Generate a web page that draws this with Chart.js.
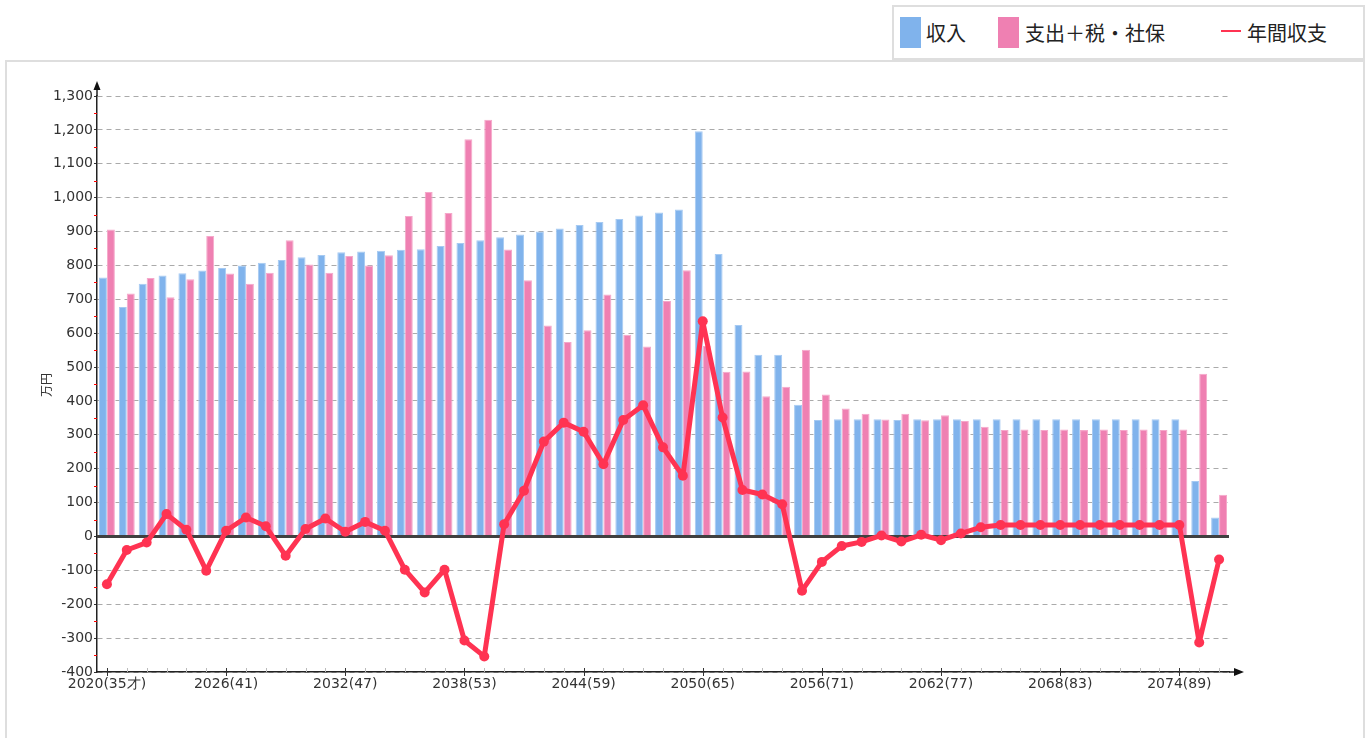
<!DOCTYPE html>
<html>
<head>
<meta charset="utf-8">
<script src="https://cdn.jsdelivr.net/npm/chart.js@4/dist/chart.umd.min.js"></script>
<style>
  body { margin: 0; background: #fff; overflow: hidden; width: 1371px; height: 738px; position: relative; }
  #frame { position: absolute; left: 5px; top: 60px; width: 1356px; height: 700px; border: 2px solid #dedede; }
  #wrap { position: absolute; left: 0; top: 0; width: 1371px; height: 738px; }
  #legend { position: absolute; left: 892px; top: 5px; width: 469px; height: 51px; border: 2px solid #dedede; background: #fff;
            font-family: "Noto Sans CJK JP", sans-serif; font-size: 20px; color: #222; }
  #legend .sw { position: absolute; top: 10px; width: 21px; height: 31px; }
  #legend .tx { position: absolute; top: 10px; height: 31px; line-height: 31px; white-space: nowrap; }
  #legend .ln { position: absolute; top: 23px; width: 20px; height: 2px; background: #ff3352; }
</style>
</head>
<body>
<div id="frame"></div>
<div id="wrap"><canvas id="chart" width="1371" height="738"></canvas></div>
<div id="legend">
  <div class="sw" style="left:6px;background:#80b3ec"></div><div class="tx" style="left:32px">収入</div>
  <div class="sw" style="left:104px;background:#ef80b2"></div><div class="tx" style="left:131px">支出＋税・社保</div>
  <div class="ln" style="left:327px"></div><div class="tx" style="left:353px">年間収支</div>
</div>
<script>
// categories: year(age)
const labels = [
  '2020(35才)', '2021(36)', '2022(37)', '2023(38)', '2024(39)', '2025(40)', '2026(41)', '2027(42)',
  '2028(43)', '2029(44)', '2030(45)', '2031(46)', '2032(47)', '2033(48)', '2034(49)', '2035(50)',
  '2036(51)', '2037(52)', '2038(53)', '2039(54)', '2040(55)', '2041(56)', '2042(57)', '2043(58)',
  '2044(59)', '2045(60)', '2046(61)', '2047(62)', '2048(63)', '2049(64)', '2050(65)', '2051(66)',
  '2052(67)', '2053(68)', '2054(69)', '2055(70)', '2056(71)', '2057(72)', '2058(73)', '2059(74)',
  '2060(75)', '2061(76)', '2062(77)', '2063(78)', '2064(79)', '2065(80)', '2066(81)', '2067(82)',
  '2068(83)', '2069(84)', '2070(85)', '2071(86)', '2072(87)', '2073(88)', '2074(89)', '2075(90)',
  '2076(91)'
];

// 収入 (万円)
const income = [
  764, 677, 746, 770, 777, 785, 792, 800, 808, 816,
  824, 831, 839, 841, 843, 846, 848, 857, 866, 874,
  883, 891, 900, 909, 919, 928, 937, 947, 956, 965,
  1196, 834, 624, 536, 536, 389, 344, 346, 346, 346,
  344, 346, 346, 346, 346, 346, 346, 346, 346, 346,
  346, 346, 346, 346, 346, 164, 56
];

// 支出＋税・社保 (万円)
const expense = [
  906, 717, 763, 706, 759, 887, 776, 746, 778, 874,
  803, 778, 828, 800, 830, 946, 1017, 955, 1172, 1230,
  847, 756, 623, 574, 609, 714, 595, 561, 695, 786,
  562, 486, 487, 414, 442, 551, 419, 378, 362, 345,
  362, 343, 358, 341, 324, 314, 316, 314, 316, 314,
  316, 314, 316, 314, 316, 480, 123
];

// 年間収支 (万円)
const balance = [
  -141, -40, -18, 66, 20, -101, 17, 56, 30, -57,
  22, 53, 14, 43, 17, -98, -165, -98, -307, -354,
  36, 135, 280, 336, 309, 213, 344, 387, 263, 179,
  635, 351, 137, 124, 95, -160, -75, -28, -16, 3,
  -15, 5, -11, 9, 27, 34, 34, 34, 34, 34,
  34, 34, 34, 34, 34, -313, -68
];

const yMin = -400, yMax = 1300, yStep = 100;
const labelEvery = 6;

const tickFont = { family: 'DejaVu Sans', size: 14 };

// zero line, axis arrows, small ticks, axis title
const decor = {
  id: 'decor',
  beforeDatasetDraw(chart, args) {
    if (args.index !== 2) return;
    const { ctx, chartArea, scales: { y } } = chart;
    const y0 = y.getPixelForValue(0);
    ctx.save();
    ctx.strokeStyle = '#404040';
    ctx.lineWidth = 3;
    ctx.beginPath();
    ctx.moveTo(chartArea.left, y0);
    ctx.lineTo(chartArea.right, y0);
    ctx.stroke();
    ctx.restore();
  },
  afterDraw(chart) {
    const { ctx, chartArea, scales: { x, y } } = chart;
    const L = chartArea.left, B = chartArea.bottom;
    ctx.save();

    // red minor ticks on the y axis
    ctx.strokeStyle = '#ff0000';
    ctx.lineWidth = 1;
    for (let v = yMin + yStep / 2; v < yMax; v += yStep) {
      const py = Math.round(y.getPixelForValue(v)) + 0.5;
      ctx.beginPath();
      ctx.moveTo(L - 3, py);
      ctx.lineTo(L, py);
      ctx.stroke();
    }

    // x ticks at every category, bigger ones under labels
    for (let i = 0; i < labels.length; i++) {
      const px = Math.round(x.getPixelForValue(i)) + 0.5;
      ctx.beginPath();
      if (i % labelEvery === 0) {
        ctx.strokeStyle = '#333';
        ctx.moveTo(px, B - 4);
        ctx.lineTo(px, B + 4);
      } else {
        ctx.strokeStyle = '#bbb';
        ctx.moveTo(px, B - 4);
        ctx.lineTo(px, B);
      }
      ctx.stroke();
    }

    // axis arrows
    ctx.strokeStyle = '#222';
    ctx.fillStyle = '#111';
    ctx.lineWidth = 1.5;
    ctx.beginPath();
    ctx.moveTo(L, chartArea.top);
    ctx.lineTo(L, 88);
    ctx.stroke();
    ctx.beginPath();
    ctx.moveTo(L, 81);
    ctx.lineTo(L - 3.5, 90);
    ctx.lineTo(L + 3.5, 90);
    ctx.closePath();
    ctx.fill();

    ctx.beginPath();
    ctx.moveTo(chartArea.right, B);
    ctx.lineTo(1236, B);
    ctx.stroke();
    ctx.beginPath();
    ctx.moveTo(1244, B);
    ctx.lineTo(1234, B - 4);
    ctx.lineTo(1234, B + 4);
    ctx.closePath();
    ctx.fill();

    // y axis title
    ctx.translate(46, 385);
    ctx.rotate(-Math.PI / 2);
    ctx.fillStyle = '#333';
    ctx.font = '12px "Noto Sans CJK JP"';
    ctx.textAlign = 'center';
    ctx.textBaseline = 'middle';
    ctx.fillText('万円', 0, 0);
    ctx.restore();
  }
};

new Chart(document.getElementById('chart'), {
  type: 'bar',
  data: {
    labels: labels,
    datasets: [{
      label: '収入',
      data: income,
      backgroundColor: '#80b3ec',
      borderColor: '#a6caf2',
      borderWidth: 1,
      categoryPercentage: 0.8,
      barPercentage: 1.0,
      order: 1
    }, {
      label: '支出＋税・社保',
      data: expense,
      backgroundColor: '#ef80b2',
      borderColor: '#f5a8ca',
      borderWidth: 1,
      categoryPercentage: 0.8,
      barPercentage: 1.0,
      order: 2
    }, {
      type: 'line',
      label: '年間収支',
      data: balance,
      borderColor: '#ff3352',
      backgroundColor: '#ff3352',
      borderWidth: 5,
      borderJoinStyle: 'round',
      borderCapStyle: 'round',
      pointRadius: 5,
      pointBorderWidth: 0,
      tension: 0,
      order: 0
    }]
  },
  options: {
    responsive: false,
    animation: false,
    layout: { padding: { top: 96, right: 142, bottom: 0, left: 0 } },
    plugins: { legend: { display: false }, tooltip: { enabled: false } },
    scales: {
      x: {
        offset: true,
        grid: { display: false, drawTicks: false, tickLength: 0 },
        border: { color: '#222', width: 1.5 },
        ticks: {
          autoSkip: false, maxRotation: 0, minRotation: 0, padding: 4,
          color: '#333', font: tickFont,
          callback: (v, i) => (i % labelEvery === 0 ? labels[i] : '')
        },
        afterFit: s => { s.height = 66; }
      },
      y: {
        min: yMin, max: yMax,
        ticks: { stepSize: yStep, padding: 1, color: '#333', font: tickFont },
        grid: {
          color: c => (c.tick && c.tick.value === 0 ? 'rgba(0,0,0,0)' : '#aaa'),
          lineWidth: 1, tickColor: '#333', tickLength: 3
        },
        border: {
          color: '#222', width: 1.5,
          dash: c => (c.tick && c.tick.value === 0 ? [] : [5, 4])
        },
        afterFit: s => { s.width = 97; }
      }
    }
  },
  plugins: [decor]
});
</script>
</body>
</html>
